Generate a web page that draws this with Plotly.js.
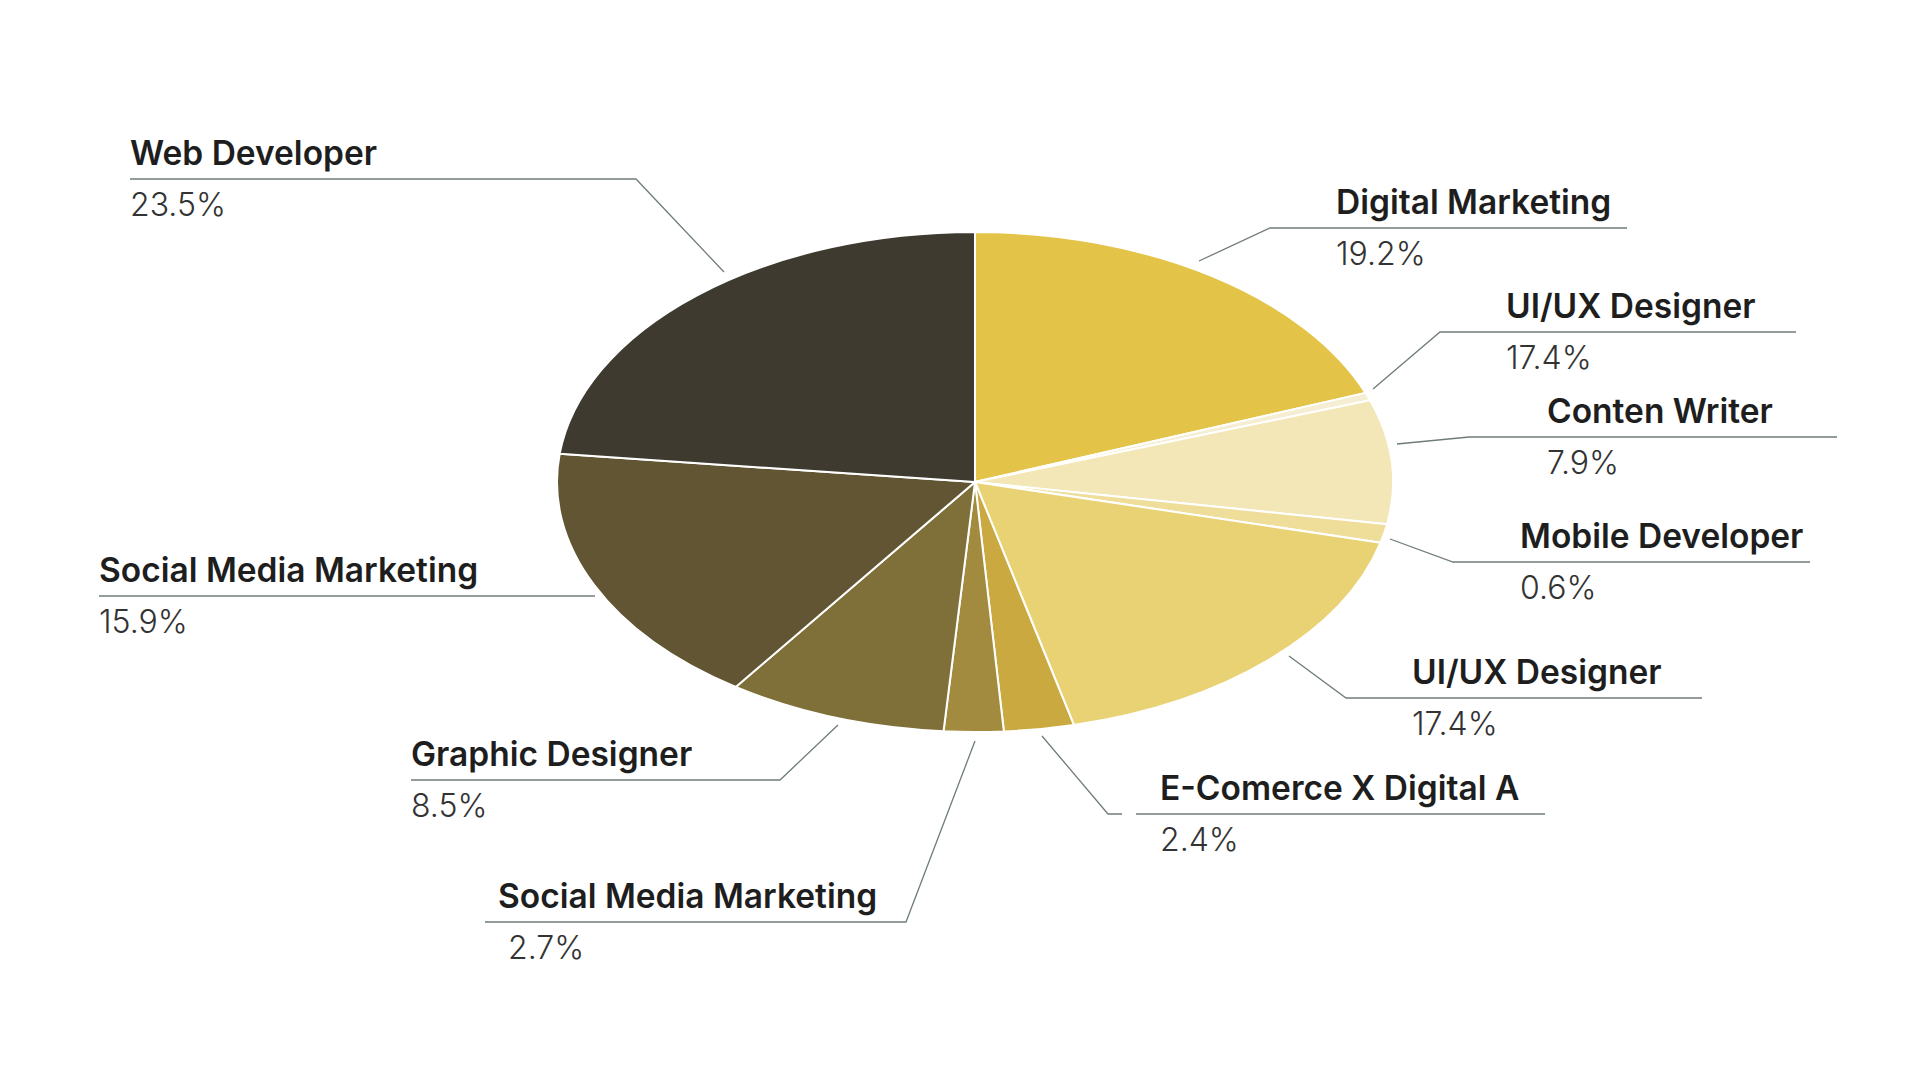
<!DOCTYPE html>
<html>
<head>
<meta charset="utf-8">
<script src="https://cdn.plot.ly/plotly-3.0.1.min.js"></script>
<style>
  html, body { margin: 0; padding: 0; background: #ffffff; }
  #chart { width: 1920px; height: 1080px; }
</style>
</head>
<body>
<div id="chart"></div>
<script>
// ---- data (clockwise from 12 o'clock) ----
const categories = ["Digital Marketing", "UI/UX Designer", "Conten Writer", "Mobile Developer", "UI/UX Designer",
                    "E-Comerce X Digital A", "Social Media Marketing", "Graphic Designer", "Social Media Marketing", "Web Developer"];
const sliceValues = [19.2, 0.5, 8.0, 1.2, 17.3, 2.7, 2.3, 8.5, 17.1, 23.2];
const shownPercent = ["19.2%", "17.4%", "7.9%", "0.6%", "17.4%", "2.4%", "2.7%", "8.5%", "15.9%", "23.5%"];
const sliceColors = ["#e4c448", "#f6eed2", "#f3e6b7", "#efdd9a", "#e9d273", "#c9a940", "#a28a3e", "#7f6f39", "#615533", "#3f3a2f"];

// ---- label placement (layout, pixels) ----
const W = 1920, H = 1080;
const placement = [
  {side: "right", tx: 1336, uy: 228, lx0: 1270, lx1: 1627, ax: 1199, ay: 261},
  {side: "right", tx: 1506, uy: 332, lx0: 1440, lx1: 1796, ax: 1373, ay: 389},
  {side: "right", tx: 1547, uy: 437, lx0: 1469, lx1: 1837, ax: 1397, ay: 444},
  {side: "right", tx: 1520, uy: 562, lx0: 1453, lx1: 1810, ax: 1390, ay: 539},
  {side: "right", tx: 1412, uy: 698, lx0: 1346, lx1: 1702, ax: 1289, ay: 656},
  {side: "right", tx: 1160, uy: 814, lx0: 1108, lx1: 1545, ax: 1042, ay: 736, gap: [1122, 1136]},
  {side: "left",  tx: 498,  uy: 922, lx0: 485,  lx1: 906,  ax: 975,  ay: 741, ptx: 508},
  {side: "left",  tx: 411,  uy: 780, lx0: 411,  lx1: 780,  ax: 838,  ay: 725},
  {side: "left",  tx: 99,   uy: 596, lx0: 99,   lx1: 595,  ax: null, ay: null},
  {side: "left",  tx: 130,  uy: 179, lx0: 130,  lx1: 636,  ax: 724,  ay: 272}
];
const pieCenter = {x: 975, y: 482, r: 250, rx: 418};

const px = v => v / W;
const py = v => 1 - v / H;

const shapes = [];
const annotations = [];
const lineStyle = {color: "#6f7c7b", width: 1.3};

placement.forEach((p, i) => {
  let d;
  if (p.side === "right") {
    if (p.gap) {
      d = `M${px(p.ax)},${py(p.ay)} L${px(p.lx0)},${py(p.uy)} L${px(p.gap[0])},${py(p.uy)} M${px(p.gap[1])},${py(p.uy)} L${px(p.lx1)},${py(p.uy)}`;
    } else {
      d = `M${px(p.ax)},${py(p.ay)} L${px(p.lx0)},${py(p.uy)} L${px(p.lx1)},${py(p.uy)}`;
    }
  } else {
    d = `M${px(p.lx0)},${py(p.uy)} L${px(p.lx1)},${py(p.uy)}`;
    if (p.ax !== null) d += ` L${px(p.ax)},${py(p.ay)}`;
  }
  shapes.push({type: "path", xref: "paper", yref: "paper", path: d, line: lineStyle, layer: "above"});

  annotations.push({
    xref: "paper", yref: "paper", x: px(p.tx - 2), y: py(p.uy - 4),
    xanchor: "left", yanchor: "bottom", showarrow: false,
    text: categories[i],
    font: {family: "Inter, 'Noto Sans', sans-serif", size: 33.5, weight: 600, color: "#1e1e1e"}
  });
  annotations.push({
    xref: "paper", yref: "paper", x: px((p.ptx || p.tx) - 2), y: py(p.uy + 4),
    xanchor: "left", yanchor: "top", showarrow: false,
    text: shownPercent[i],
    font: {family: "Inter, 'Noto Sans', sans-serif", size: 32, weight: 300, color: "#333333"}
  });
});

const trace = {
  type: "pie",
  values: sliceValues,
  sort: false,
  direction: "clockwise",
  rotation: 0,
  textinfo: "none",
  hoverinfo: "skip",
  showlegend: false,
  marker: {colors: sliceColors, line: {color: "#ffffff", width: 2}},
  domain: {
    x: [px(pieCenter.x - pieCenter.r), px(pieCenter.x + pieCenter.r)],
    y: [py(pieCenter.y + pieCenter.r), py(pieCenter.y - pieCenter.r)]
  }
};

const layout = {
  width: W, height: H,
  margin: {l: 0, r: 0, t: 0, b: 0},
  paper_bgcolor: "#ffffff",
  plot_bgcolor: "#ffffff",
  showlegend: false,
  shapes: shapes,
  annotations: annotations
};

Plotly.newPlot("chart", [trace], layout, {displayModeBar: false, staticPlot: true}).then(gd => {
  // stretch the pie horizontally into the elliptical look of the reference
  const sx = pieCenter.rx / pieCenter.r;
  gd.querySelectorAll(".pielayer .trace").forEach(g => {
    const b = g.getBBox();
    const cx = b.x + b.width / 2, cy = b.y + b.height / 2;
    g.setAttribute("transform", `translate(${cx},${cy}) scale(${sx},1) translate(${-cx},${-cy})`);
    g.querySelectorAll("path").forEach(p => p.style.vectorEffect = "non-scaling-stroke");
  });
});
</script>
</body>
</html>
